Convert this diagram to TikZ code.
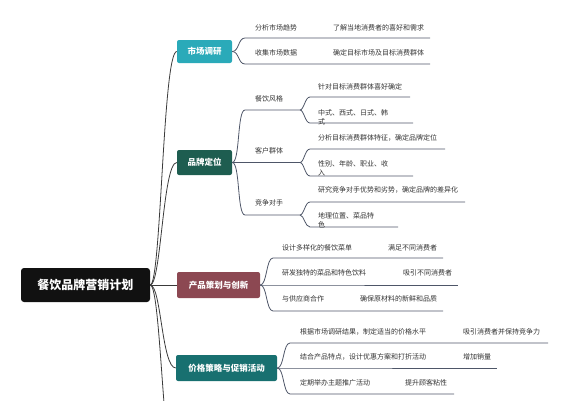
\documentclass[tikz,border=0pt]{standalone}
\usepackage{fontspec}
\setmainfont{Noto Sans CJK SC}
\definecolor{linec}{HTML}{4E5668}
\definecolor{trunkc}{HTML}{3A3A3A}
\definecolor{txtc}{HTML}{333333}
\definecolor{rootc}{HTML}{111111}
\definecolor{cA}{HTML}{2AAAB9}
\definecolor{cB}{HTML}{1E5D50}
\definecolor{cC}{HTML}{8C4852}
\definecolor{cD}{HTML}{187070}
\begin{document}
\begin{tikzpicture}[x=1pt,y=-1pt,
  conn/.style={draw=linec, line width=0.8pt},
  trunk/.style={draw=trunkc, line width=0.8pt},
  lbl/.style={anchor=west, inner sep=0pt, font=\fontsize{7}{9}\selectfont, text=txtc},
  lbltwo/.style={anchor=north west, inner sep=0pt, align=left, font=\fontsize{7}{9}\selectfont, text=txtc},
  mainbox/.style={rounded corners=2pt, text=white, font=\fontsize{8.5}{10}\bfseries\selectfont, inner sep=0pt},
]
\useasboundingbox (0,0) rectangle (568,400);
\clip (0,0) rectangle (568,400);

% root
\node[fill=rootc, rounded corners=3pt, minimum width=129pt, minimum height=34pt, inner sep=0pt,
      text=white, font=\fontsize{12}{14}\bfseries\selectfont] (root) at (85.5,285) {餐饮品牌营销计划};

% main topics
\node[mainbox, fill=cA, minimum width=55pt, minimum height=23pt] (m1) at (204.5,51.5) {市场调研};
\node[mainbox, fill=cB, minimum width=55pt, minimum height=25pt] (m2) at (204.5,162.5) {品牌定位};
\node[mainbox, fill=cC, minimum width=83pt, minimum height=26pt] (m3) at (218.5,285) {产品策划与创新};
\node[mainbox, fill=cD, minimum width=101pt, minimum height=26pt] (m4) at (226.5,368) {价格策略与促销活动};
\coordinate (m5) at (177,480);

% trunk connectors
\draw[trunk] (root.east) .. controls +(11,0) and +(-14,0) .. (m1.west);
\draw[trunk] (root.east) .. controls +(11,0) and +(-14,0) .. (m2.west);
\draw[trunk] (root.east) -- (m3.west);
\draw[trunk] (root.east) .. controls +(11,0) and +(-14,0) .. (m4.west);
\draw[trunk] (root.east) .. controls +(11,0) and +(-14,0) .. (m5);

% ---- 市场调研
\coordinate (a1) at (245,38);  \coordinate (a1e) at (430,38);
\coordinate (a2) at (245,64);  \coordinate (a2e) at (430,64);
\draw[conn] (m1.east) .. controls +(7,0) and +(-7,0) .. (a1) -- (a1e);
\draw[conn] (m1.east) .. controls +(7,0) and +(-7,0) .. (a2) -- (a2e);
\node[lbl] (a1t) at (255,28) {分析市场趋势};
\node[lbl] (a1s) at (333,28) {了解当地消费者的喜好和需求};
\node[lbl] (a2t) at (255,53) {收集市场数据};
\node[lbl] (a2s) at (333,53) {确定目标市场及目标消费群体};

% ---- 品牌定位
\coordinate (b1) at (245,110);  \coordinate (b1e) at (300,110);
\coordinate (b2) at (245,162.5);  \coordinate (b2e) at (300,162.5);
\coordinate (b3) at (245,215);  \coordinate (b3e) at (300,215);
\draw[conn] (m2.east) .. controls +(8,0) and +(-8,0) .. (b1) -- (b1e);
\draw[conn] (m2.east) -- (b2) -- (b2e);
\draw[conn] (m2.east) .. controls +(8,0) and +(-8,0) .. (b3) -- (b3e);
\node[lbl] (b1t) at (255,99) {餐饮风格};
\node[lbl] (b2t) at (255,151) {客户群体};
\node[lbl] (b3t) at (255,203) {竞争对手};

\coordinate (b11) at (310,97);  \coordinate (b11e) at (410,97);
\coordinate (b12) at (310,123); \coordinate (b12e) at (413,123);
\draw[conn] (b1e) .. controls +(4,0) and +(-5,0) .. (b11) -- (b11e);
\draw[conn] (b1e) .. controls +(4,0) and +(-5,0) .. (b12) -- (b12e);
\node[lbl] (b11t) at (318,87) {针对目标消费群体喜好确定};
\node[lbltwo] (b12t) at (318,109.2) {中式、西式、日式、韩\\式};

\coordinate (b21) at (310,149); \coordinate (b21e) at (445,149);
\coordinate (b22) at (310,176); \coordinate (b22e) at (413,176);
\draw[conn] (b2e) .. controls +(4,0) and +(-5,0) .. (b21) -- (b21e);
\draw[conn] (b2e) .. controls +(4,0) and +(-5,0) .. (b22) -- (b22e);
\node[lbl] (b21t) at (318,138) {分析目标消费群体特征，确定品牌定位};
\node[lbltwo] (b22t) at (318,160.2) {性别、年龄、职业、收\\入};

\coordinate (b31) at (310,202); \coordinate (b31e) at (465,202);
\coordinate (b32) at (310,227); \coordinate (b32e) at (398,227);
\draw[conn] (b3e) .. controls +(4,0) and +(-5,0) .. (b31) -- (b31e);
\draw[conn] (b3e) .. controls +(4,0) and +(-5,0) .. (b32) -- (b32e);
\node[lbl] (b31t) at (318,190) {研究竞争对手优势和劣势，确定品牌的差异化};
\node[lbltwo] (b32t) at (318,212.2) {地理位置、菜品特\\色};

% ---- 产品策划与创新
\coordinate (c1) at (273,258); \coordinate (c1e) at (443,258);
\coordinate (c2) at (273,285); \coordinate (c2e) at (458,285);
\coordinate (c3) at (273,311); \coordinate (c3e) at (443,311);
\draw[conn] (m3.east) .. controls +(7,0) and +(-7,0) .. (c1) -- (c1e);
\draw[conn] (m3.east) -- (c2) -- (c2e);
\draw[conn] (m3.east) .. controls +(7,0) and +(-7,0) .. (c3) -- (c3e);
\node[lbl] (c1t) at (282,248) {设计多样化的餐饮菜单};
\node[lbl] (c1s) at (388,248) {满足不同消费者};
\node[lbl] (c2t) at (282,273) {研发独特的菜品和特色饮料};
\node[lbl] (c2s) at (403,273) {吸引不同消费者};
\node[lbl] (c3t) at (282,299) {与供应商合作};
\node[lbl] (c3s) at (360,299) {确保原材料的新鲜和品质};

% ---- 价格策略与促销活动
\coordinate (d1) at (290,343); \coordinate (d1e) at (548,343);
\coordinate (d2) at (290,368); \coordinate (d2e) at (497,368);
\coordinate (d3) at (290,394); \coordinate (d3e) at (454,394);
\draw[conn] (m4.east) .. controls +(7,0) and +(-7,0) .. (d1) -- (d1e);
\draw[conn] (m4.east) -- (d2) -- (d2e);
\draw[conn] (m4.east) .. controls +(7,0) and +(-7,0) .. (d3) -- (d3e);
\node[lbl] (d1t) at (300,332) {根据市场调研结果，制定适当的价格水平};
\node[lbl] (d1s) at (463,332) {吸引消费者并保持竞争力};
\node[lbl] (d2t) at (300,357) {结合产品特点，设计优惠方案和打折活动};
\node[lbl] (d2s) at (463,357) {增加销量};
\node[lbl] (d3t) at (300,383) {定期举办主题推广活动};
\node[lbl] (d3s) at (405,383) {提升顾客粘性};
\end{tikzpicture}
\end{document}
